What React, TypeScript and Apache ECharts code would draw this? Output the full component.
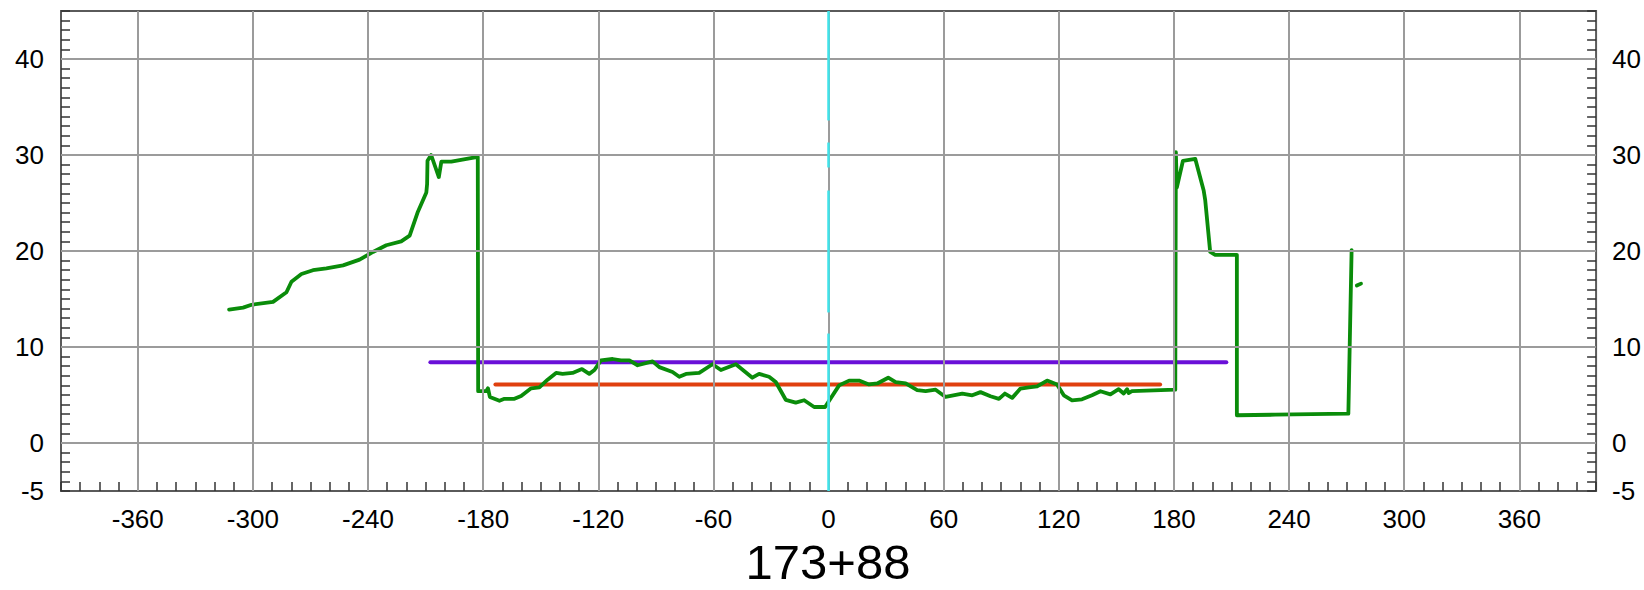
import React, { useEffect, useRef } from "react";
import * as echarts from "echarts";

// ---- data ----
const stationLabel = "173+88";

const xLabelValues = [-360, -300, -240, -180, -120, -60, 0, 60, 120, 180, 240, 300, 360];
const yLabelValues = [-5, 0, 10, 20, 30, 40];
const xGridValues = [-360, -300, -240, -180, -120, -60, 0, 60, 120, 180, 240, 300, 360];
const yGridValues = [0, 10, 20, 30, 40];

// ground profile (offset, elevation)
const groundProfile: [number, number][] = [
  [-312.4, 13.9], [-305.1, 14.1], [-300.7, 14.4], [-289.5, 14.7], [-282.5, 15.7],
  [-279.9, 16.8], [-274.7, 17.6], [-268.7, 18.0], [-261.7, 18.2], [-253.0, 18.5],
  [-244.4, 19.1], [-237.4, 19.9], [-230.5, 20.6], [-222.7, 21.0], [-218.3, 21.6],
  [-214.0, 24.1], [-209.6, 26.1], [-209.2, 27.0], [-209.0, 29.4], [-207.1, 30.0],
  [-203.1, 27.7], [-201.8, 29.3], [-196.6, 29.3], [-182.8, 29.8], [-182.6, 5.4],
  [-178.4, 5.4], [-177.5, 5.7], [-176.5, 4.8], [-171.5, 4.4], [-168.9, 4.6],
  [-163.7, 4.6], [-160.2, 4.9], [-155.0, 5.7], [-150.7, 5.8], [-146.4, 6.6],
  [-142.0, 7.3], [-138.6, 7.2], [-133.4, 7.3], [-128.5, 7.7], [-124.7, 7.2],
  [-122.0, 7.6], [-118.6, 8.6], [-112.5, 8.75], [-108.2, 8.6], [-103.8, 8.6],
  [-99.5, 8.1], [-91.7, 8.5], [-88.2, 7.9], [-81.3, 7.4], [-77.8, 6.9],
  [-74.3, 7.2], [-67.4, 7.3], [-60.5, 8.2], [-56.1, 7.6], [-48.3, 8.2],
  [-39.7, 6.8], [-36.2, 7.2], [-31.0, 6.9], [-27.5, 6.35], [-22.3, 4.5],
  [-17.1, 4.2], [-12.7, 4.45], [-7.5, 3.75], [-1.8, 3.75], [5.5, 6.0],
  [10.7, 6.5], [15.9, 6.5], [21.1, 6.1], [25.4, 6.2], [31.1, 6.8],
  [35.0, 6.35], [40.2, 6.2], [46.2, 5.5], [50.6, 5.4], [55.8, 5.55],
  [61.0, 4.8], [69.7, 5.15], [74.9, 4.97], [79.2, 5.3], [84.4, 4.87],
  [88.8, 4.6], [91.9, 5.15], [95.7, 4.7], [100.0, 5.67], [104.4, 5.8],
  [108.7, 5.9], [113.9, 6.5], [119.1, 6.1], [122.6, 4.97], [126.9, 4.45],
  [132.1, 4.55], [137.3, 4.97], [141.7, 5.39], [146.9, 5.07], [151.2, 5.6],
  [153.8, 5.15], [155.6, 5.6], [156.4, 5.2], [158.1, 5.4], [180.7, 5.56],
  [181.0, 30.3], [181.5, 26.6], [184.7, 29.4], [191.1, 29.6], [195.5, 26.3],
  [196.3, 25.3], [198.9, 19.9], [201.5, 19.6], [212.8, 19.6], [212.8, 2.89],
  [232.8, 2.95], [270.9, 3.06], [272.6, 20.1],
];
const groundTail: [number, number][] = [[275.3, 16.4], [277.5, 16.6]];

const upperDesign: [number, number][] = [[-207.5, 8.4], [207.3, 8.4]];
const lowerDesign: [number, number][] = [[-173.6, 6.1], [172.8, 6.1]];

// centre line pieces: [fromElevation, toElevation] at offset 0
const centerOffset = 0;
const centerPieces: [number, number][] = [[-5, 11.4], [13.6, 26.3], [28.7, 31.3], [33.6, 45]];

const FONT = "Arial, 'Liberation Sans', sans-serif";

export default function App() {
  const ref = useRef<HTMLDivElement>(null);
  useEffect(() => {
    if (!ref.current) return;
    const chart = echarts.init(ref.current, undefined, { renderer: "svg" });
    const yLabelFmt = (v: number) => (yLabelValues.includes(Math.round(v)) && Math.abs(v - Math.round(v)) < 1e-6 ? String(Math.round(v)) : "");
    const xLabelFmt = (v: number) => (xLabelValues.includes(Math.round(v)) ? String(Math.round(v)) : "");
    const yAxisBase = {
      type: "value",
      min: -5,
      max: 45,
      interval: 1,
      axisLine: { show: false, onZero: false },
      axisTick: { show: true, inside: true, length: 9, lineStyle: { color: "#333", width: 1.5 } },
      splitLine: { show: false },
      axisLabel: { interval: 0, formatter: yLabelFmt, color: "#000", fontSize: 26, fontFamily: FONT, margin: 17 },
    };
    chart.setOption({
      animation: false,
      backgroundColor: "#fff",
      grid: { left: 61, right: 46, top: 11, bottom: 99, show: true, borderColor: "#5a5a5a", borderWidth: 2, containLabel: false },
      xAxis: {
        type: "value",
        min: -400,
        max: 400,
        interval: 10,
        axisLine: { show: false, onZero: false },
        axisTick: { show: true, inside: true, length: 9, lineStyle: { color: "#333", width: 1.5 } },
        splitLine: { show: false },
        axisLabel: { interval: 0, formatter: xLabelFmt, color: "#000", fontSize: 26, lineHeight: 26, fontFamily: FONT, margin: 15 },
      },
      yAxis: [
        { ...yAxisBase, position: "left" },
        { ...yAxisBase, position: "right", axisLabel: { ...yAxisBase.axisLabel, margin: 16 } },
      ],
      graphic: [
        {
          type: "text",
          x: 828,
          y: 562,
          style: { text: stationLabel, fontSize: 49, lineHeight: 44, fontFamily: FONT, fill: "#000", textAlign: "center", textVerticalAlign: "middle" },
        },
      ],
      series: [
        {
          name: "grid",
          type: "line",
          data: [],
          z: 1,
          silent: true,
          markLine: {
            silent: true,
            symbol: ["none", "none"],
            label: { show: false },
            lineStyle: { color: "#9b9b9b", width: 2, type: "solid" },
            emphasis: { disabled: true },
            data: [...xGridValues.map((v) => ({ xAxis: v })), ...yGridValues.map((v) => ({ yAxis: v }))],
          },
        },
        {
          name: "centre",
          type: "line",
          data: [],
          z: 2,
          silent: true,
          markLine: {
            silent: true,
            symbol: ["none", "none"],
            label: { show: false },
            lineStyle: { color: "#40e3ea", width: 2.5, type: "solid" },
            emphasis: { disabled: true },
            data: centerPieces.map(([a, b]) => [{ coord: [centerOffset, a] }, { coord: [centerOffset, b] }]),
          },
        },
        {
          name: "upper",
          type: "line",
          data: upperDesign,
          z: 3,
          symbol: "none",
          silent: true,
          lineStyle: { color: "#6a10d8", width: 4, cap: "round" },
        },
        {
          name: "lower",
          type: "line",
          data: lowerDesign,
          z: 3,
          symbol: "none",
          silent: true,
          lineStyle: { color: "#e0400f", width: 4, cap: "round" },
        },
        {
          name: "ground",
          type: "line",
          data: groundProfile,
          z: 4,
          symbol: "none",
          silent: true,
          lineStyle: { color: "#0a8c0a", width: 3.8, cap: "round", join: "round" },
        },
        {
          name: "groundTail",
          type: "line",
          data: groundTail,
          z: 4,
          symbol: "none",
          silent: true,
          lineStyle: { color: "#0a8c0a", width: 3.8, cap: "round", join: "round" },
        },
      ],
    });
    return () => chart.dispose();
  }, []);
  return <div ref={ref} style={{ position: "absolute", left: 0, top: 0, width: 1644, height: 590 }} />;
}
